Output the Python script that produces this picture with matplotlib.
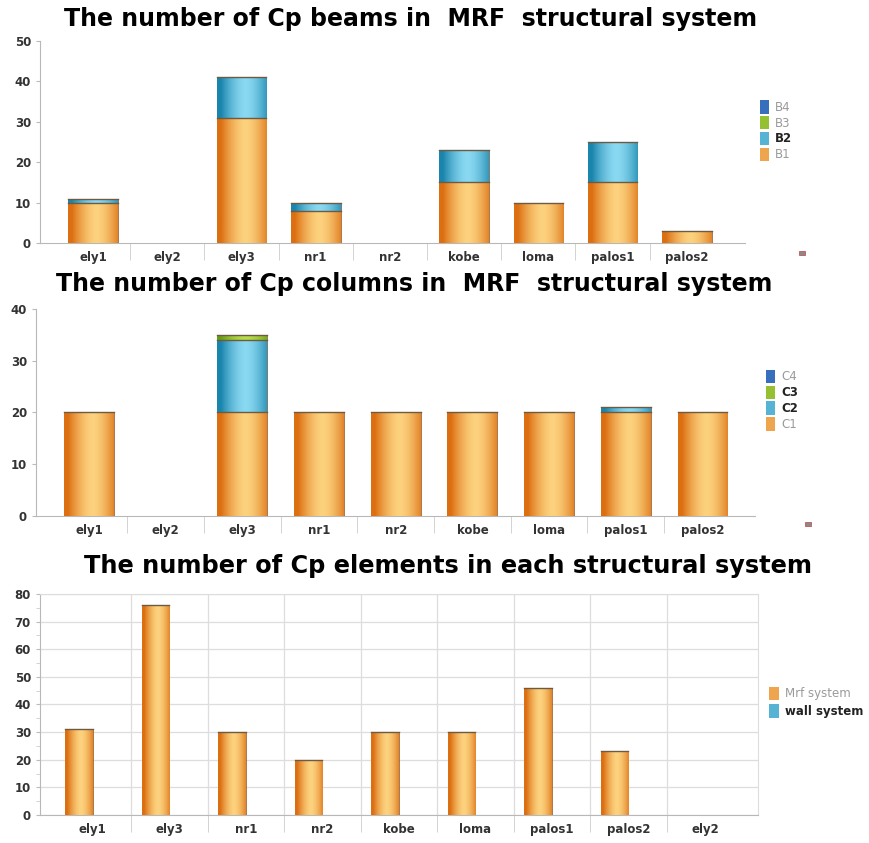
import matplotlib

matplotlib.use("Agg")
import matplotlib.pyplot as plt
import numpy as np
from matplotlib.colors import LinearSegmentedColormap
from matplotlib.patches import Patch, Rectangle

# --- datos ---
beam_sites = ["ely1", "ely2", "ely3", "nr1", "nr2", "kobe", "loma", "palos1", "palos2"]
beam_b1 = [10, 0, 31, 8, 0, 15, 10, 15, 3]
beam_b2 = [1, 0, 10, 2, 0, 8, 0, 10, 0]
beam_b3 = [0, 0, 0, 0, 0, 0, 0, 0, 0]
beam_b4 = [0, 0, 0, 0, 0, 0, 0, 0, 0]

col_sites = ["ely1", "ely2", "ely3", "nr1", "nr2", "kobe", "loma", "palos1", "palos2"]
col_c1 = [20, 0, 20, 20, 20, 20, 20, 20, 20]
col_c2 = [0, 0, 14, 0, 0, 0, 0, 1, 0]
col_c3 = [0, 0, 1, 0, 0, 0, 0, 0, 0]
col_c4 = [0, 0, 0, 0, 0, 0, 0, 0, 0]

sys_sites = ["ely1", "ely3", "nr1", "nr2", "kobe", "loma", "palos1", "palos2", "ely2"]
sys_mrf = [31, 76, 30, 20, 30, 30, 46, 23, 0]
sys_wall = [0, 0, 0, 0, 0, 0, 0, 0, 0]

# colores (borde oscuro, centro claro)
ORANGE = ("#dc6f12", "#fdd27e")
BLUE = ("#1a85ad", "#8ad9f2")
GREEN = ("#6a9e12", "#b8dc4c")
NAVY = ("#1a4f9c", "#4f8ad6")

GRAD = np.linspace(-1, 1, 80)
GRAD = (1 - np.abs(GRAD - 0.15) ** 1.6).clip(0, 1)[None, :]


def cmap_of(pair):
    return LinearSegmentedColormap.from_list("bar", [pair[0], pair[1]])


def mid(pair):
    return cmap_of(pair)(0.55)


def shaded_bars(ax, x, h, bottom, width, pair):
    bars = ax.bar(x, h, width, bottom=bottom, color=pair[0],
                  edgecolor="#7a4a20", linewidth=0.4, zorder=3)
    for b in bars:
        if b.get_height() <= 0:
            b.set_visible(False)
            continue
        x0, y0 = b.get_x(), b.get_y()
        img = ax.imshow(GRAD, cmap=cmap_of(pair), vmin=0, vmax=1, aspect="auto",
                        extent=(x0, x0 + b.get_width(), y0, y0 + b.get_height()),
                        zorder=3.5, interpolation="bilinear")
        img.set_clip_path(b)
        ax.plot([x0, x0 + b.get_width()], [y0 + b.get_height()] * 2,
                color="#6e5a40", lw=1.0, zorder=4)
    return bars


def style_axes(ax, labels, ymax, step):
    n = len(labels)
    ax.set_ylim(0, ymax)
    ax.set_yticks(np.arange(0, ymax + 1, step))
    ax.set_xticks(np.arange(n))
    ax.set_xticklabels(labels)
    ax.set_xticks(np.arange(n - 1) + 0.5, minor=True)
    for s in ("top", "right"):
        ax.spines[s].set_visible(False)
    for s in ("left", "bottom"):
        ax.spines[s].set_color("#b8b8b8")
    ax.tick_params(axis="x", which="major", length=0, pad=6, labelsize=8.5,
                   labelcolor="#333333")
    ax.tick_params(axis="x", which="minor", length=12, color="#cccccc")
    ax.tick_params(axis="y", which="major", length=3, color="#bbbbbb",
                   labelsize=8.5, labelcolor="#333333")
    for lab in ax.get_xticklabels() + ax.get_yticklabels():
        lab.set_fontweight("bold")


def add_legend(fig, labels, pairs, bold, x, y, spacing):
    handles = [Patch(facecolor=mid(p), edgecolor="none") for p in pairs]
    leg = fig.legend(handles, labels, loc="upper left", bbox_to_anchor=(x, y),
                     frameon=False, fontsize=8.5, handlelength=0.8, handleheight=1.4,
                     handletextpad=0.5, labelspacing=spacing)
    for t, b in zip(leg.get_texts(), bold):
        t.set_color("#222222" if b else "#9a9a9a")
        if b:
            t.set_fontweight("bold")


fig = plt.figure(figsize=(8.69, 8.43), dpi=100)

# --- vigas ---
ax1 = fig.add_axes([0.046, 0.7117, 0.811, 0.2397])
x = np.arange(len(beam_sites))
b1 = np.array(beam_b1)
b2 = np.array(beam_b2)
b3 = np.array(beam_b3)
shaded_bars(ax1, x, b1, 0, 0.67, ORANGE)
shaded_bars(ax1, x, b2, b1, 0.67, BLUE)
shaded_bars(ax1, x, b3, b1 + b2, 0.67, GREEN)
shaded_bars(ax1, x, beam_b4, b1 + b2 + b3, 0.67, NAVY)
style_axes(ax1, beam_sites, 50, 10)
ax1.set_xlim(-0.714, 8.78)
fig.text(0.472, 0.978, "The number of Cp beams in  MRF  structural system",
         ha="center", va="center", fontsize=17, fontweight="bold")
add_legend(fig, ["B4", "B3", "B2", "B1"], [NAVY, GREEN, BLUE, ORANGE],
           [False, False, True, False], 0.862, 0.894, 0.18)

# --- columnas ---
ax2 = fig.add_axes([0.0414, 0.3879, 0.827, 0.2456])
x = np.arange(len(col_sites))
c1 = np.array(col_c1)
c2 = np.array(col_c2)
c3 = np.array(col_c3)
shaded_bars(ax2, x, c1, 0, 0.65, ORANGE)
shaded_bars(ax2, x, c2, c1, 0.65, BLUE)
shaded_bars(ax2, x, c3, c1 + c2, 0.65, GREEN)
shaded_bars(ax2, x, col_c4, c1 + c2 + c3, 0.65, NAVY)
style_axes(ax2, col_sites, 40, 10)
ax2.set_xlim(-0.69, 8.68)
fig.text(0.477, 0.663, "The number of Cp columns in  MRF  structural system",
         ha="center", va="center", fontsize=17, fontweight="bold")
add_legend(fig, ["C4", "C3", "C2", "C1"], [NAVY, GREEN, BLUE, ORANGE],
           [False, True, True, False], 0.869, 0.574, 0.18)

# --- sistemas ---
ax3 = fig.add_axes([0.046, 0.0332, 0.826, 0.2622])
x = np.arange(len(sys_sites))
w = 0.36
shaded_bars(ax3, x - w / 2, sys_mrf, 0, w, ORANGE)
shaded_bars(ax3, x + w / 2, sys_wall, 0, w, BLUE)
style_axes(ax3, sys_sites, 80, 10)
ax3.set_yticks(np.arange(5, 80, 10), minor=True)
ax3.tick_params(axis="y", which="minor", length=3, color="#cccccc")
ax3.set_xlim(-0.69, 8.69)
ax3.grid(axis="y", which="major", color="#dddddd", lw=0.9, zorder=0)
ax3.grid(axis="x", which="minor", color="#dddddd", lw=0.9, zorder=0)
ax3.spines["top"].set_visible(True)
ax3.spines["right"].set_visible(True)
ax3.spines["top"].set_color("#dddddd")
ax3.spines["right"].set_color("#dddddd")
fig.text(0.516, 0.329, "The number of Cp elements in each structural system",
         ha="center", va="center", fontsize=17.3, fontweight="bold")
add_legend(fig, ["Mrf system", "wall system"], [ORANGE, BLUE],
           [False, True], 0.873, 0.198, 0.3)

# iconos pequenos de exportacion
for fx, fy in [(0.919, 0.697), (0.926, 0.376)]:
    fig.patches.append(Rectangle((fx, fy), 0.007, 0.005, transform=fig.transFigure,
                                 facecolor="#8a8a8a", edgecolor="#c04040", lw=0.5))

fig.savefig("out.png", dpi=100)
